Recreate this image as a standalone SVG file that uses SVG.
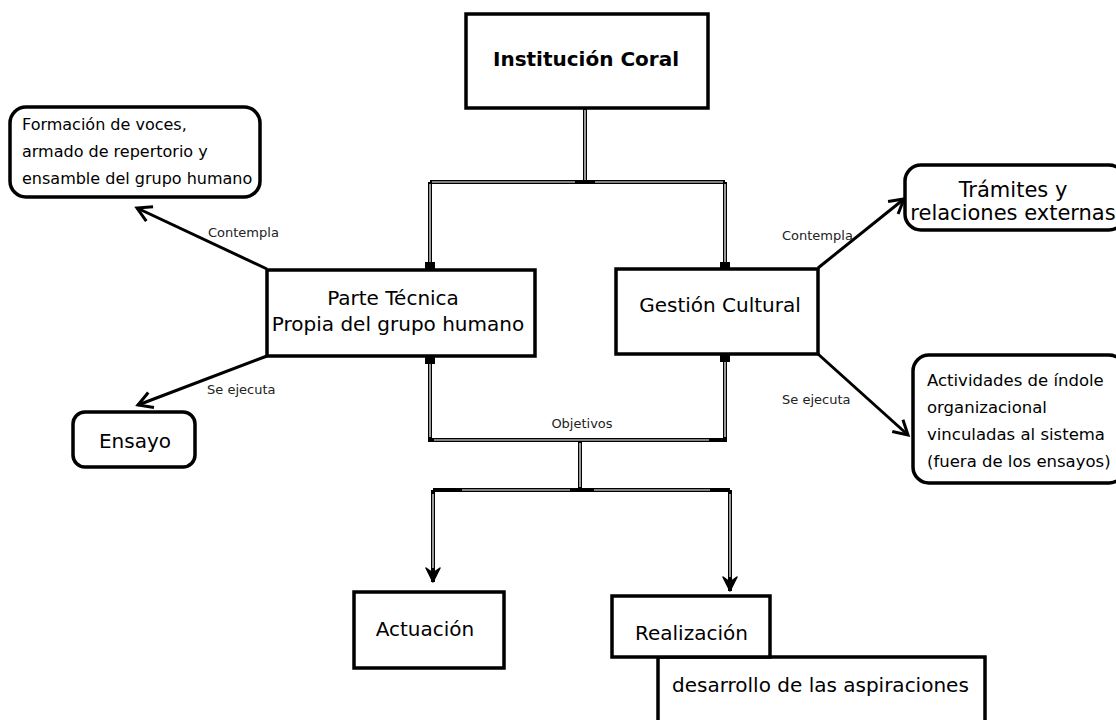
<svg xmlns="http://www.w3.org/2000/svg" width="1116" height="720" viewBox="0 0 1116 720">
<defs>
<style>
.box{fill:#fff;stroke:#000;stroke-width:3.5}
.t{font-family:"DejaVu Sans","Liberation Sans",sans-serif;fill:#000}
.lbl{font-family:"DejaVu Sans","Liberation Sans",sans-serif;fill:#222;font-size:13px}
.hl{fill:none;stroke:#000;stroke-width:4}
.hc{fill:none;stroke:#fff;stroke-width:1.2}
.ar{fill:none;stroke:#000;stroke-width:3}
.sq{fill:#000}
</style>
<marker id="open" viewBox="0 0 20 20" refX="17" refY="10" markerWidth="20" markerHeight="20" markerUnits="userSpaceOnUse" orient="auto">
<path d="M3,2 L17,10 L3,18" fill="none" stroke="#000" stroke-width="3"/>
</marker>
<marker id="down" viewBox="0 0 18 18" refX="16" refY="9" markerWidth="18" markerHeight="18" markerUnits="userSpaceOnUse" orient="auto">
<path d="M2,2 L16,9 L2,16 L7,9 Z" fill="#000" stroke="#000" stroke-width="1.5" stroke-linejoin="round"/>
</marker>
</defs>
<rect width="1116" height="720" fill="#fff"/>

<g id="connectors">
<!-- top tree -->
<path class="hl" d="M585,108 V182 M430,182 H725 M430,182 V268 M725,182 V268"/>
<path class="hc" d="M585,110 V180 M432,182 H723 M430,184 V262 M725,184 V262"/>
<rect class="sq" x="425" y="262" width="10" height="8"/>
<rect class="sq" x="720" y="262" width="10" height="8"/>
<rect class="sq" x="575" y="180" width="20" height="4"/>
<!-- bottom tree -->
<path class="hl" d="M430,356 V440 H725 V354 M580,440 V490"/>
<path class="hc" d="M430,364 V437 M434,440 H709 M725,362 V437 M580,443 V487"/>
<rect class="sq" x="425" y="356" width="10" height="8"/>
<rect class="sq" x="720" y="354" width="10" height="8"/>
<path class="hl" d="M433,490 H730"/>
<path class="hl" d="M433,490 V582" marker-end="url(#down)"/>
<path class="hl" d="M730,490 V591" marker-end="url(#down)"/>
<path class="hc" d="M462,490 H570 M594,490 H710 M433,494 V568 M730,494 V577"/>
<!-- side arrows -->
<path class="ar" d="M267,269 L137,208" marker-end="url(#open)"/>
<path class="ar" d="M267,356 L138,405" marker-end="url(#open)"/>
<path class="ar" d="M818,268 L904,199" marker-end="url(#open)"/>
<path class="ar" d="M818,354 L908,435" marker-end="url(#open)"/>
<text class="lbl" x="208" y="237">Contempla</text>
<text class="lbl" x="207" y="394">Se ejecuta</text>
<text class="lbl" x="782" y="240">Contempla</text>
<text class="lbl" x="782" y="404">Se ejecuta</text>
<text class="lbl" x="582" y="428" text-anchor="middle" font-size="14">Objetivos</text>
</g>

<g id="institucion">
<rect class="box" x="466" y="14" width="242" height="94"/>
<text class="t" x="586" y="66" font-size="20" font-weight="bold" text-anchor="middle">Institución Coral</text>
</g>

<g id="parte-tecnica">
<rect class="box" x="267" y="270" width="268" height="86"/>
<text class="t" x="393" y="305" font-size="20" text-anchor="middle">Parte Técnica</text>
<text class="t" x="398" y="331" font-size="20" text-anchor="middle">Propia del grupo humano</text>
</g>

<g id="gestion-cultural">
<rect class="box" x="616" y="269" width="202" height="85"/>
<text class="t" x="720" y="312" font-size="20" text-anchor="middle">Gestión Cultural</text>
</g>

<g id="formacion">
<rect class="box" x="10" y="107" width="250" height="90" rx="16"/>
<text class="t" x="22" y="130" font-size="16">Formación de voces,</text>
<text class="t" x="22" y="157" font-size="16">armado de repertorio y</text>
<text class="t" x="22" y="184" font-size="16">ensamble del grupo humano</text>
</g>

<g id="ensayo">
<rect class="box" x="73" y="412" width="122" height="55" rx="12"/>
<text class="t" x="135" y="448" font-size="20" text-anchor="middle">Ensayo</text>
</g>

<g id="tramites">
<rect class="box" x="905" y="165" width="220" height="65" rx="16"/>
<text class="t" x="1013" y="197" font-size="21" text-anchor="middle">Trámites y</text>
<text class="t" x="1013" y="220" font-size="21" text-anchor="middle">relaciones externas</text>
</g>

<g id="actividades">
<rect class="box" x="913" y="355" width="212" height="128" rx="16"/>
<text class="t" x="927" y="386" font-size="16.5">Actividades de índole</text>
<text class="t" x="927" y="413" font-size="16.5">organizacional</text>
<text class="t" x="927" y="440" font-size="16.5">vinculadas al sistema</text>
<text class="t" x="927" y="467" font-size="16.5">(fuera de los ensayos)</text>
</g>

<g id="actuacion">
<rect class="box" x="354" y="592" width="150" height="76"/>
<text class="t" x="425" y="636" font-size="20" text-anchor="middle">Actuación</text>
</g>

<g id="desarrollo">
<rect class="box" x="658" y="657" width="327" height="80"/>
<text class="t" x="672" y="692" font-size="20">desarrollo de las aspiraciones</text>
</g>

<g id="realizacion">
<rect class="box" x="612" y="596" width="158" height="61"/>
<text class="t" x="635" y="640" font-size="20">Realización</text>
</g>
</svg>
